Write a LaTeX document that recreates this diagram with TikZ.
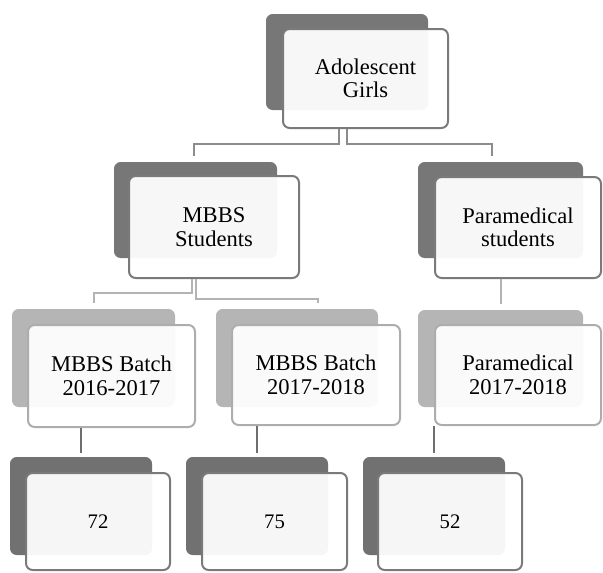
\documentclass[tikz,border=0pt]{standalone}
\usepackage{fontspec}
\setmainfont{Liberation Serif}
\usetikzlibrary{calc}
\definecolor{backdark}{HTML}{777777}
\definecolor{backlight}{HTML}{B5B5B5}
\definecolor{backbottom}{HTML}{717171}
\definecolor{edgedark}{HTML}{7A7A7A}
\definecolor{edgelight}{HTML}{ADADAD}
\definecolor{linemid}{HTML}{8C8C8C}
\definecolor{linelight}{HTML}{B3B3B3}
\definecolor{linedark}{HTML}{6E6E6E}
\tikzset{
  backbox/.style={rectangle, rounded corners=5pt, inner sep=0pt, draw=none},
  frontbox/.style={rectangle, rounded corners=5pt, inner sep=0pt, line width=1.5pt,
     fill=white, fill opacity=0.94, text opacity=1, draw opacity=1, align=center,
     font=\fontsize{16.9}{17.6}\selectfont},
  numbox/.style={frontbox, font=\fontsize{15.5}{17}\selectfont},
  conn/.style={line width=1.5pt},
}
\begin{document}
\begin{tikzpicture}[x=0.75pt,y=-0.75pt]
\useasboundingbox (0,0) rectangle (603,572);
% top
\node[backbox, fill=backdark, minimum width=121.5pt, minimum height=72pt] (topB) at (347,62) {};
\node[frontbox, draw=edgedark, minimum width=123.75pt, minimum height=74.25pt] (topF) at (365.5,78.5) {Adolescent\\Girls};
% level 2
\node[backbox, fill=backdark, minimum width=122.25pt, minimum height=72pt] (mbbsB) at (195.5,210) {};
\node[frontbox, draw=edgedark, minimum width=127.5pt, minimum height=76.5pt] (mbbsF) at (214,227) {MBBS\\Students};
\node[backbox, fill=backdark, minimum width=123.75pt, minimum height=72pt] (paraB) at (500.5,210) {};
\node[frontbox, draw=edgedark, minimum width=124.5pt, minimum height=75.75pt] (paraF) at (518,227.5) {Paramedical\\students};
% level 3
\node[backbox, fill=backlight, minimum width=122.25pt, minimum height=73.5pt] (b1B) at (93.5,358) {};
\node[frontbox, draw=edgelight, minimum width=125.25pt, minimum height=76.5pt] (b1F) at (111.5,376) {MBBS Batch\\2016-2017};
\node[backbox, fill=backlight, minimum width=121.5pt, minimum height=73.5pt] (b2B) at (297,358) {};
\node[frontbox, draw=edgelight, minimum width=126pt, minimum height=75pt] (b2F) at (316,375) {MBBS Batch\\2017-2018};
\node[backbox, fill=backlight, minimum width=123.75pt, minimum height=72.75pt] (p2B) at (500.5,358.5) {};
\node[frontbox, draw=edgelight, minimum width=124.5pt, minimum height=75pt] (p2F) at (518,375) {Paramedical\\2017-2018};
% level 4
\node[backbox, fill=backbottom, minimum width=106.5pt, minimum height=73.5pt] (n1B) at (81,506) {};
\node[numbox, draw=edgedark, minimum width=108pt, minimum height=72.75pt] (n1F) at (98,521.5) {72};
\node[backbox, fill=backbottom, minimum width=106.5pt, minimum height=73.5pt] (n2B) at (257,506) {};
\node[numbox, draw=edgedark, minimum width=108.75pt, minimum height=72.75pt] (n2F) at (274.5,521.5) {75};
\node[backbox, fill=backbottom, minimum width=106.5pt, minimum height=73.5pt] (n3B) at (434,506) {};
\node[numbox, draw=edgedark, minimum width=108pt, minimum height=72.75pt] (n3F) at (450,521.5) {52};
% connectors level 1 -> 2
\draw[conn, linemid] ([xshift=-6pt]topB.south |- topF.south) -- ++(0,15) -| ($(mbbsB.north)+(-1.5,-6)$);
\draw[conn, linemid] (topB.south |- topF.south) -- ++(0,15) -| ($(paraB.north)+(-8.5,-6)$);
% level 2 -> 3
\draw[conn, linelight] ([xshift=-2.5pt]mbbsB.south |- mbbsF.south) -- ++(0,14) -| ($(b1B.north)+(0,-6)$);
\draw[conn, linelight] (mbbsB.south |- mbbsF.south) -- ++(0,20) -| ($(b2F.north |- b2B.north)+(2,-6)$);
\draw[conn, linelight] (paraB.south |- paraF.south) -- ($(p2B.north)+(0,-6)$);
% level 3 -> 4
\draw[conn, linedark] (n1B.north |- b1F.south) -- ($(n1B.north)+(0,-4)$);
\draw[conn, linedark] (n2B.north |- b2F.south) -- ($(n2B.north)+(0,-4)$);
\draw[conn, linedark] (n3B.north |- p2F.south) -- ($(n3B.north)+(0,-4)$);
\end{tikzpicture}
\end{document}
